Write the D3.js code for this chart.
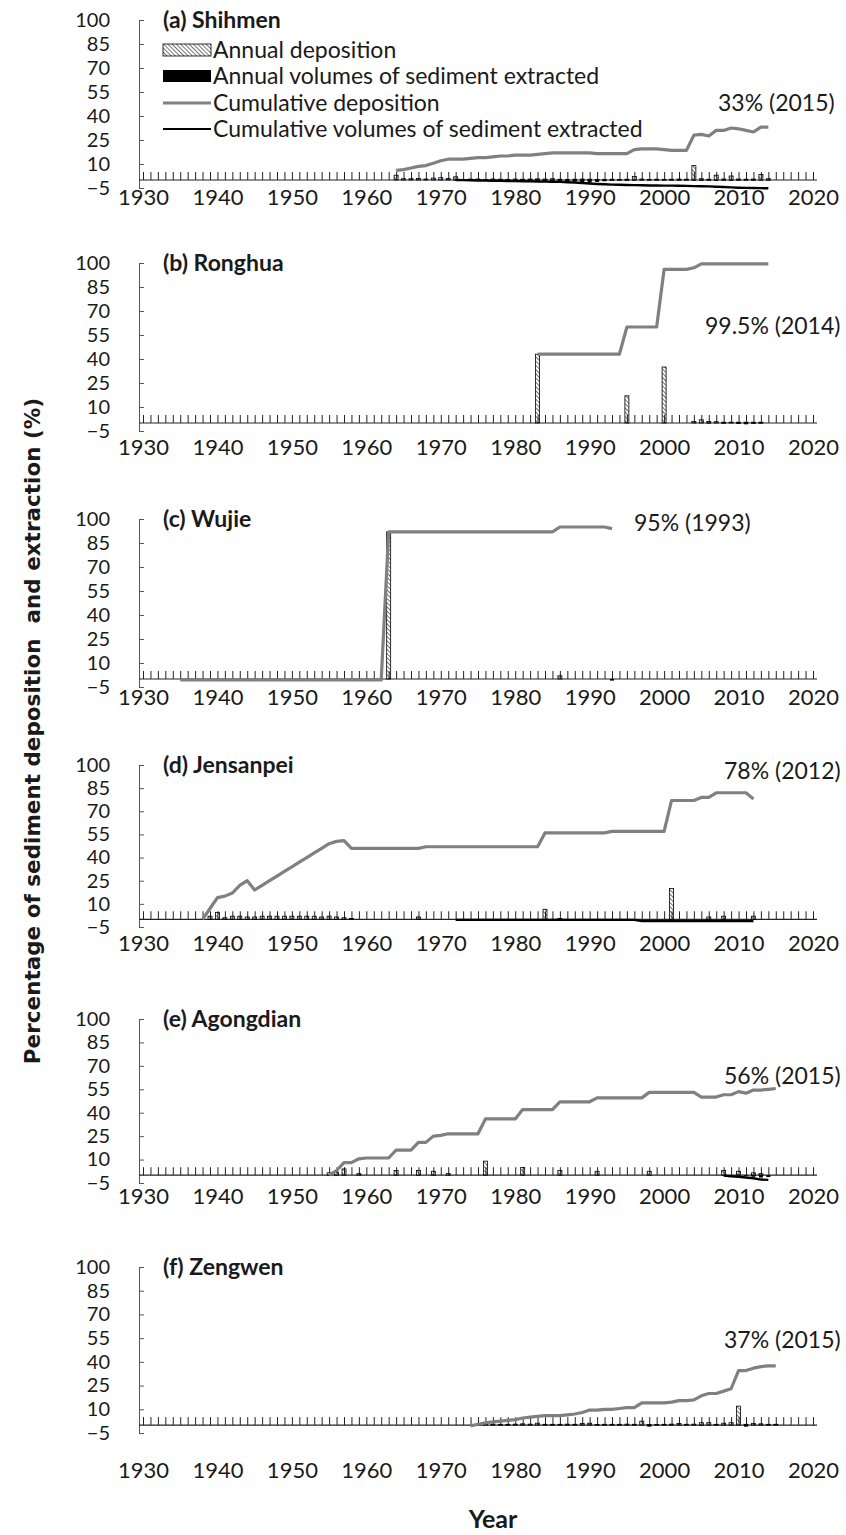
<!DOCTYPE html>
<html>
<head>
<meta charset="utf-8">
<script src="https://cdn.jsdelivr.net/npm/d3@7/dist/d3.min.js"></script>
<style>
  body { margin: 0; background: #fff; }
  svg text { font-family: Lato, "Open Sans", sans-serif; fill: #1a1a1a; }
  .yax text { font-size: 20px; }
  .xlab text { font-size: 22px; }
  .ttl { font-weight: bold; font-size: 23px; }
  .lg, .note { font-size: 23px; }
</style>
</head>
<body>
<svg id="chart" width="846" height="1535"></svg>
<script>
// axis labels
const yearLabels = [1930, 1940, 1950, 1960, 1970, 1980, 1990, 2000, 2010, 2020];
const yTicks = [-5, 10, 25, 40, 55, 70, 85, 100];
const legendLabels = ['Annual deposition', 'Annual volumes of sediment extracted',
  'Cumulative deposition', 'Cumulative volumes of sediment extracted'];

// (a) Shihmen
const shihmenCumDep = [6, 6.5, 7.5, 8.5, 9, 10.5, 12, 13, 13, 13, 13.5, 14, 14, 14.5, 15, 15, 15.5, 15.5, 15.5, 16,
  16.5, 17, 17, 17, 17, 17, 17, 16.5, 16.5, 16.5, 16.5, 16.5, 19, 19.5, 19.5, 19.5, 19, 18.5, 18.5, 18.5,
  28, 28.5, 27.5, 31, 31, 32.5, 32, 31, 30, 33, 33];           // 1964-2014
const shihmenAnnDep = [3, 0.8, 0.8, 1, 0.6, 1.2, 1.5, 1, 2, 0.4, 0.6, 0.6, 0.4, 0.6, 0.5, 0.4, 0.6, 0.5, 0.6, 0.7,
  0.6, 0.8, 0.5, 0.4, 0.5, 0.6, 0.5, 0.4, 0.3, 0.5, 0.4, 0.5, 2.2, 0.6, 0.4, 0.5, 0.4, 0.5, 0.6, 0.5,
  9, 0.8, 0.5, 3, 0.6, 2.5, 0.6, 0.5, 0.6, 3.5, 0.8];          // 1964-2014
const shihmenCumExt = [0, -0.1, -0.2, -0.3, -0.4, -0.5, -0.5, -0.6, -0.7, -0.8, -0.8, -0.9, -1, -1.1, -1.2, -1.4,
  -1.6, -1.9, -2.2, -2.5, -2.7, -2.9, -3, -3.1, -3.2, -3.3, -3.4, -3.4, -3.5, -3.5, -3.6, -3.7, -3.8, -3.9,
  -4, -4.2, -4.4, -4.6, -4.8, -4.9, -5, -5.1, -5.2];            // 1972-2014
const shihmenAnnExt = [-0.3, -0.3, -0.4, -0.3, -0.4, -0.4, -0.3, -0.4, -0.4, -0.3, -0.4, -0.5, -0.6, -0.5, -0.6,
  -0.8, -1, -1.4, -1.6, -1.2, -0.8, -0.5, -0.4, -0.5, -0.4, -0.3, -0.3, -0.4, -0.3, -0.3, -0.4, -0.3, -0.4,
  -0.5, -0.4, -0.5, -0.4, -0.5, -0.4, -0.3, -0.4, -0.3, -0.3]; // 1972-2014

// (b) Ronghua
const ronghuaCumDep = [43, 43, 43, 43, 43, 43, 43, 43, 43, 43, 43, 43, 60, 60, 60, 60, 60, 96, 96, 96, 96,
  97, 99.5, 99.5, 99.5, 99.5, 99.5, 99.5, 99.5, 99.5, 99.5, 99.5];   // 1983-2014
const ronghuaAnnDep = [[1983, 43], [1995, 17], [2000, 35], [2004, 1], [2005, 2], [2006, 1], [2007, 0.8],
  [2008, 0.5], [2009, 0.5], [2010, 0.5], [2011, 0.5], [2012, 0.5], [2013, 0.5]];
const ronghuaAnnExt = [[2006, -0.3], [2008, -0.4], [2010, -0.6], [2011, -0.8], [2012, -0.5], [2013, -0.3]];

// (c) Wujie
const wujieCumDep = [-0.5, -0.5, -0.5, -0.5, -0.5, -0.5, -0.5, -0.5, -0.5, -0.5, -0.5, -0.5, -0.5, -0.5,
  -0.5, -0.5, -0.5, -0.5, -0.5, -0.5, -0.5, -0.5, -0.5, -0.5, -0.5, -0.5, -0.5, -0.5,
  92, 92, 92, 92, 92, 92, 92, 92, 92, 92, 92, 92, 92, 92, 92, 92, 92, 92, 92, 92, 92, 92, 92,
  95, 95, 95, 95, 95, 95, 95, 94];                               // 1935-1993
const wujieAnnDep = [[1963, 92], [1986, 2]];
const wujieAnnExt = [[1993, -1]];

// (d) Jensanpei
const jensanpeiCumDep = [0, 7, 14, 15, 17, 22, 25, 19, 22, 25, 28, 31, 34, 37, 40, 43, 46, 49, 50.5, 51, 46,
  46, 46, 46, 46, 46, 46, 46, 46, 46,
  47, 47, 47, 47, 47, 47, 47, 47, 47, 47, 47, 47, 47, 47, 47, 47,
  56, 56, 56, 56, 56, 56, 56, 56, 56,
  57, 57, 57, 57, 57, 57, 57, 57,
  77, 77, 77, 77, 79, 79, 82, 82, 82, 82, 82, 78];              // 1938-2012
const jensanpeiAnnDep = [[1939, 2], [1940, 4.5], [1941, 1], [1942, 2], [1943, 2], [1944, 1.5], [1945, 1.5],
  [1946, 2], [1947, 2], [1948, 2], [1949, 2], [1950, 2], [1951, 2], [1952, 2], [1953, 2], [1954, 1.5],
  [1955, 2], [1956, 1.5], [1957, 1], [1958, 0.5], [1967, 1.5], [1984, 6.5], [1986, 0.5], [2001, 20],
  [2006, 1.5], [2008, 2], [2012, 2]];
const jensanpeiCumExt = [[1972, -0.4], [1996, -0.4], [1997, -1.2], [2012, -1.2]];
const jensanpeiAnnExt = [[1996, -0.7]];

// (e) Agongdian
const agongdianCumDep = [0, 3, 8, 8, 10.5, 11, 11, 11, 11, 16, 16, 16, 21, 21, 25, 25.5, 26.5, 26.5, 26.5,
  26.5, 26.5, 36, 36, 36, 36, 36, 42, 42, 42, 42, 42, 47, 47, 47, 47, 47,
  49.5, 49.5, 49.5, 49.5, 49.5, 49.5, 49.5, 53, 53, 53, 53, 53, 53, 53,
  50, 50, 50, 51.5, 51.5, 53.5, 52.5, 54.5, 54.5, 55, 55.5];    // 1955-2015
const agongdianAnnDep = [[1955, 1.5], [1956, 2], [1957, 4], [1959, 1], [1964, 3], [1967, 3], [1969, 2.5],
  [1971, 1], [1976, 9], [1981, 5], [1986, 3], [1991, 2.5], [1998, 2.5], [2008, 3], [2010, 2.5],
  [2012, 1.5], [2013, 1]];
const agongdianCumExt = [[2008, -0.3], [2009, -0.7], [2010, -1], [2011, -1.5], [2012, -2], [2013, -2.8], [2014, -3]];
const agongdianAnnExt = [[2009, -0.5], [2011, -0.5], [2012, -1], [2013, -1.5], [2014, -1.2]];

// (f) Zengwen
const zengwenCumDep = [-0.5, 0.5, 1.5, 2, 2.5, 3, 3.5, 4.5, 5, 5.5, 6, 6, 6, 6.5, 7, 8, 9.5, 9.5, 10, 10,
  10.5, 11, 11, 14, 14, 14, 14, 14.5, 15.5, 15.5, 16, 18.5, 20, 20, 21.5, 23, 34.5, 34.5, 36, 37, 37.5, 37.5]; // 1974-2015
const zengwenAnnDep = [0.6, 1, 0.6, 0.5, 0.5, 0.6, 0.8, 0.6, 1.2, 0.5, 0.5, 0.5, 0.6, 0.5, 1, 1.2, 0.4, 0.5,
  0.5, 0.5, 0.6, 0.5, 2.5, 0.4, 0.4, 0.5, 0.6, 1, 0.5, 0.6, 1.5, 1.5, 0.5, 1.2, 1.5, 12, 0.5, 1, 0.8, 0.5, 0.5]; // 1975-2015
const zengwenAnnExt = [[1998, -1], [2005, -0.4], [2011, -1]];

const seq = (start, vals) => vals.map((v, i) => ({ year: start + i, value: v }));
const pairs = arr => arr.map(([year, value]) => ({ year, value }));

const panels = [
  { title: '(a) Shihmen', note: '33% (2015)', cumDep: seq(1964, shihmenCumDep), annDep: seq(1964, shihmenAnnDep),
    cumExt: seq(1972, shihmenCumExt), annExt: seq(1972, shihmenAnnExt) },
  { title: '(b) Ronghua', note: '99.5% (2014)', cumDep: seq(1983, ronghuaCumDep), annDep: pairs(ronghuaAnnDep),
    cumExt: [], annExt: pairs(ronghuaAnnExt) },
  { title: '(c) Wujie', note: '95% (1993)', cumDep: seq(1935, wujieCumDep), annDep: pairs(wujieAnnDep),
    cumExt: [], annExt: pairs(wujieAnnExt) },
  { title: '(d) Jensanpei', note: '78% (2012)', cumDep: seq(1938, jensanpeiCumDep), annDep: pairs(jensanpeiAnnDep),
    cumExt: pairs(jensanpeiCumExt), annExt: pairs(jensanpeiAnnExt) },
  { title: '(e) Agongdian', note: '56% (2015)', cumDep: seq(1955, agongdianCumDep), annDep: pairs(agongdianAnnDep),
    cumExt: pairs(agongdianCumExt), annExt: pairs(agongdianAnnExt) },
  { title: '(f) Zengwen', note: '37% (2015)', cumDep: seq(1974, zengwenCumDep), annDep: seq(1975, zengwenAnnDep),
    cumExt: [], annExt: pairs(zengwenAnnExt) }
];

// pixel layout of each panel: y of 100, y of -5, centre of year labels, note baseline
const layout = [
  { top: 20, bottom: 188, labelY: 197, noteX: 718, noteY: 111 },
  { top: 263, bottom: 431, labelY: 447, noteX: 705, noteY: 334 },
  { top: 519, bottom: 687, labelY: 697, noteX: 634, noteY: 531 },
  { top: 765, bottom: 927, labelY: 943, noteX: 724, noteY: 779 },
  { top: 1019, bottom: 1183, labelY: 1196, noteX: 724, noteY: 1084 },
  { top: 1267, bottom: 1433, labelY: 1470, noteX: 724, noteY: 1348 }
];

const svg = d3.select('#chart');
const x = d3.scaleLinear().domain([1930, 2020]).range([143, 813]);
const axisX0 = 139, axisX1 = 817;

// hatch for annual deposition bars
svg.append('defs').append('pattern')
  .attr('id', 'hatch').attr('patternUnits', 'userSpaceOnUse')
  .attr('width', 3).attr('height', 3).attr('patternTransform', 'rotate(-45)')
  .append('line').attr('x1', 0).attr('y1', 0).attr('x2', 0).attr('y2', 3)
  .attr('stroke', '#000').attr('stroke-width', 1.1);

panels.forEach((p, i) => {
  const L = layout[i];
  const y = d3.scaleLinear().domain([-5, 100]).range([L.bottom, L.top]);
  const g = svg.append('g');

  // y axis, ticks inside
  const ya = g.append('g').attr('class', 'yax').attr('transform', `translate(${axisX0},0)`)
    .call(d3.axisLeft(y).tickValues(yTicks).tickSize(-5).tickSizeOuter(0).tickPadding(29));
  ya.selectAll('path, line').attr('stroke', '#555');

  // yearly tick marks pointing up from zero line
  const xt = g.append('g').attr('transform', `translate(0,${y(0)})`)
    .call(d3.axisBottom(x).tickValues(d3.range(1930, 2021)).tickSize(-8).tickFormat(''));
  xt.select('.domain').remove();
  xt.selectAll('line').attr('stroke', '#222');
  g.append('line').attr('x1', axisX0).attr('x2', axisX1).attr('y1', y(0)).attr('y2', y(0))
    .attr('stroke', '#222').attr('stroke-width', 1.2);

  // year labels
  const xl = g.append('g').attr('class', 'xlab').attr('transform', `translate(0,${L.labelY - 8})`)
    .call(d3.axisBottom(x).tickValues(yearLabels).tickSize(0).tickPadding(0).tickFormat(d3.format('d')));
  xl.select('.domain').remove();

  // annual bars
  const bw = 4;
  g.selectAll('.dep').data(p.annDep).join('rect')
    .attr('x', d => x(d.year) - bw / 2).attr('width', bw)
    .attr('y', d => y(d.value)).attr('height', d => y(0) - y(d.value))
    .attr('fill', 'url(#hatch)').attr('stroke', '#000').attr('stroke-width', 0.8);
  g.selectAll('.ext').data(p.annExt).join('rect')
    .attr('x', d => x(d.year) - bw / 2).attr('width', bw)
    .attr('y', y(0)).attr('height', d => y(d.value) - y(0))
    .attr('fill', '#000');

  // cumulative lines
  const line = d3.line().x(d => x(d.year)).y(d => y(d.value));
  if (p.cumExt.length) g.append('path').datum(p.cumExt).attr('d', line)
    .attr('fill', 'none').attr('stroke', '#000').attr('stroke-width', 2.4);
  g.append('path').datum(p.cumDep).attr('d', line)
    .attr('fill', 'none').attr('stroke', '#808080').attr('stroke-width', 3.2).attr('stroke-linejoin', 'round');

  g.append('text').attr('class', 'ttl').attr('x', 163).attr('y', L.top + 8).text(p.title);
  g.append('text').attr('class', 'note').attr('x', L.noteX).attr('y', L.noteY).text(p.note);
});

// legend in panel (a)
const lg = svg.append('g');
const rows = [50, 76, 103, 129];
lg.append('rect').attr('x', 163).attr('y', rows[0] - 6).attr('width', 48).attr('height', 12)
  .attr('fill', 'url(#hatch)').attr('stroke', '#000').attr('stroke-width', 0.8);
lg.append('rect').attr('x', 163).attr('y', rows[1] - 6).attr('width', 48).attr('height', 12).attr('fill', '#000');
lg.append('line').attr('x1', 163).attr('x2', 211).attr('y1', rows[2]).attr('y2', rows[2])
  .attr('stroke', '#808080').attr('stroke-width', 3.2);
lg.append('line').attr('x1', 163).attr('x2', 211).attr('y1', rows[3]).attr('y2', rows[3])
  .attr('stroke', '#000').attr('stroke-width', 2);
lg.selectAll('text').data(legendLabels).join('text').attr('class', 'lg')
  .attr('x', 213).attr('y', (d, i) => rows[i] + 8).text(d => d);

// axis titles
svg.append('text').attr('transform', 'translate(40,731) rotate(-90)')
  .attr('text-anchor', 'middle').style('white-space', 'pre')
  .style('font-family', '"DejaVu Sans", sans-serif').style('font-weight', 'bold').style('font-size', '21.5px')
  .text('Percentage of sediment deposition  and extraction (%)');
svg.append('text').attr('x', 493).attr('y', 1528).attr('text-anchor', 'middle')
  .style('font-weight', 'bold').style('font-size', '25px').text('Year');
</script>
</body>
</html>
